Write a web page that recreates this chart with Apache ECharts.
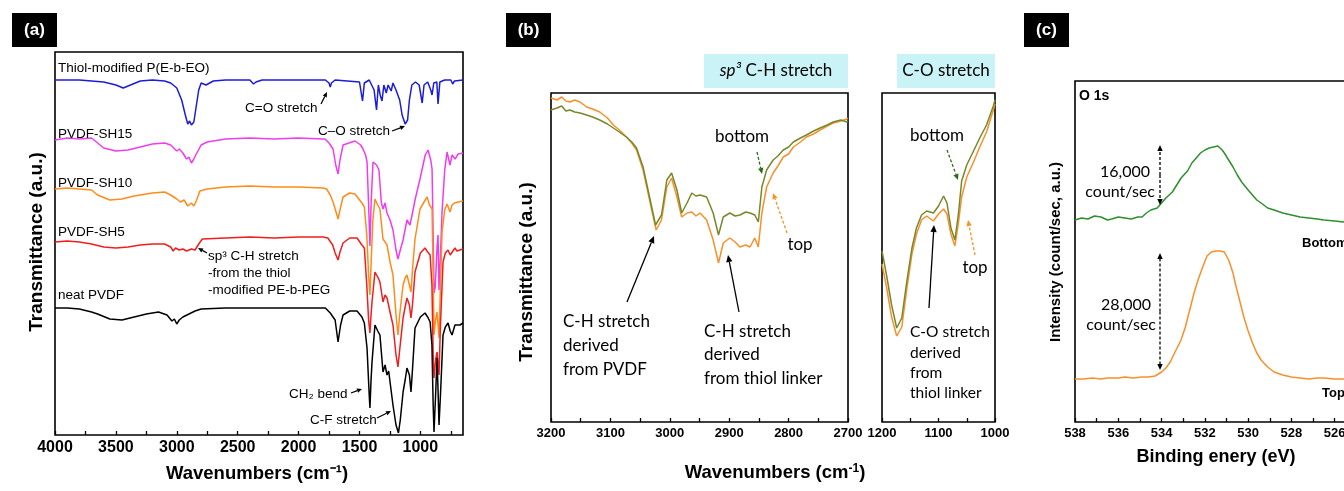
<!DOCTYPE html>
<html>
<head>
<meta charset="utf-8">
<script src="https://cdn.jsdelivr.net/npm/echarts@6/dist/echarts.min.js"></script>
<style>
  html, body { margin: 0; padding: 0; background: #fff; }
  #chart { width: 1344px; height: 491px; }
</style>
</head>
<body>
<div id="chart"></div>
<script>
// ---------- (a) FTIR spectra, [wavenumber, transmittance a.u. (offset)] ----------
const thiolPEG = [[4000,355],[3800,355],[3600,353],[3500,350],[3440,347],[3380,350],[3300,354],[3200,355],[3100,354],[3050,352],[3000,347],[2960,335],[2930,320],[2910,311],[2895,314],[2880,310],[2860,313],[2845,325],[2820,345],[2800,352],[2760,350],[2700,354],[2600,355],[2400,355],[2370,351],[2350,353],[2300,355],[2000,355],[1780,355],[1750,352],[1740,348],[1730,352],[1700,355],[1600,354],[1500,353],[1475,334],[1460,352],[1420,355],[1380,345],[1360,325],[1345,350],[1330,340],[1315,334],[1300,350],[1280,342],[1265,350],[1240,344],[1225,352],[1200,345],[1170,335],[1150,320],[1125,311],[1105,315],[1090,335],[1070,350],[1040,353],[1010,350],[985,332],[970,350],[940,353],[915,345],[904,340],[890,352],[865,353],[855,331],[840,353],[800,355],[750,355],[735,351],[720,354],[650,355]];
const pvdfSH15 = [[4000,295],[3900,297],[3800,296],[3700,297],[3650,292],[3600,287],[3500,284],[3400,285],[3300,288],[3200,291],[3100,292],[3050,290],[3000,284],[2980,286],[2950,282],[2920,276],[2900,278],[2880,272],[2860,276],[2840,281],[2800,290],[2750,293],[2600,296],[2400,297],[2200,296],[2000,297],[1800,296],[1783,296],[1750,292],[1717,286],[1695,270],[1676,261],[1660,275],[1635,290],[1619,291],[1537,294],[1490,290],[1471,286],[1450,280],[1438,273],[1425,230],[1414,189],[1405,230],[1389,273],[1360,270],[1340,265],[1320,232],[1307,226],[1290,232],[1274,222],[1249,215],[1225,205],[1200,185],[1184,176],[1165,185],[1142,195],[1110,215],[1085,210],[1060,225],[1044,235],[1003,256],[960,280],[937,285],[915,275],[904,266],[895,200],[888,142],[878,148],[870,150],[862,190],[855,200],[847,145],[835,180],[822,223],[800,265],[781,283],[757,270],[740,280],[715,276],[690,281],[650,282]];
const pvdfSH10 = [[4000,246],[3900,247],[3800,246],[3700,245],[3650,240],[3550,235],[3450,236],[3350,239],[3200,242],[3100,243],[3050,240],[3000,236],[2970,233],[2940,235],[2910,229],[2880,232],[2860,229],[2840,234],[2810,244],[2750,246],[2600,248],[2400,249],[2200,248],[2000,248],[1800,247],[1770,246],[1740,240],[1717,233],[1690,222],[1676,216],[1660,225],[1635,238],[1580,242],[1537,241],[1480,232],[1460,228],[1440,200],[1425,160],[1414,140],[1405,170],[1390,215],[1373,236],[1350,230],[1332,226],[1307,196],[1290,193],[1274,190],[1249,173],[1225,160],[1200,120],[1184,100],[1170,120],[1142,150],[1125,157],[1110,160],[1090,150],[1077,143],[1065,165],[1044,196],[1003,226],[960,235],[945,238],[925,230],[904,226],[895,160],[888,100],[875,115],[863,123],[855,110],[847,97],[835,150],[822,203],[800,225],[781,231],[757,223],[740,230],[720,232],[690,233],[650,234]];
const pvdfSH5 = [[4000,193],[3900,194],[3800,193],[3700,191],[3600,188],[3500,187],[3400,188],[3300,190],[3200,191],[3100,191],[3050,188],[3030,184],[3010,187],[2980,185],[2950,186],[2920,184],[2880,186],[2850,185],[2820,191],[2790,196],[2600,197],[2400,198],[2200,197],[2000,198],[1800,198],[1760,197],[1720,190],[1700,182],[1676,175],[1660,183],[1635,192],[1580,197],[1520,197],[1480,190],[1460,187],[1440,150],[1425,115],[1414,102],[1405,120],[1397,133],[1373,163],[1350,158],[1332,153],[1307,133],[1290,140],[1274,137],[1249,123],[1225,110],[1200,80],[1184,68],[1170,85],[1142,117],[1125,128],[1110,137],[1090,130],[1077,117],[1065,130],[1044,163],[1000,182],[962,187],[940,183],[920,180],[905,150],[895,80],[888,57],[875,75],[863,83],[855,72],[847,60],[835,110],[814,173],[795,182],[773,185],[755,180],[740,180],[716,187],[700,184],[675,185],[650,186]];
const neatPVDF = [[4000,127],[3900,127],[3800,126],[3700,123],[3650,121],[3550,116],[3450,115],[3350,118],[3250,121],[3150,123],[3080,120],[3040,114],[3020,116],[3000,111],[2980,115],[2950,118],[2900,121],[2850,124],[2800,126],[2600,127],[2400,127],[2200,127],[2000,127],[1800,127],[1780,127],[1740,122],[1700,115],[1676,93],[1655,110],[1635,120],[1580,124],[1520,124],[1480,118],[1460,112],[1438,87],[1420,40],[1414,27],[1405,55],[1397,73],[1373,110],[1350,104],[1332,100],[1307,63],[1290,70],[1274,60],[1260,64],[1249,53],[1225,30],[1200,10],[1180,2],[1165,15],[1142,43],[1125,55],[1110,67],[1090,60],[1077,43],[1065,65],[1044,107],[1000,118],[962,122],[940,118],[920,113],[905,90],[895,30],[888,3],[875,40],[863,77],[855,45],[847,10],[835,40],[814,100],[795,108],[773,112],[755,104],[740,100],[716,110],[700,108],[675,110],[650,112]];

// ---------- (b) zoomed FTIR, top vs bottom surface ----------
const chTop = [[3200,324],[3190,322],[3182,325],[3175,321],[3168,320],[3160,322],[3151,320],[3140,315],[3130,313],[3118,310],[3105,304],[3095,297],[3085,292],[3073,285],[3064,279],[3056,272],[3045,252],[3033,219],[3023,192],[3014,202],[3005,235],[2997,244],[2988,225],[2980,205],[2971,209],[2963,210],[2956,206],[2949,209],[2938,202],[2927,182],[2918,159],[2910,179],[2899,184],[2890,180],[2882,175],[2872,177],[2865,175],[2857,184],[2851,175],[2845,209],[2837,235],[2826,249],[2818,256],[2809,265],[2800,268],[2792,275],[2780,280],[2770,285],[2758,288],[2747,292],[2735,296],[2725,299],[2712,301],[2702,303],[2700,304]];
const chBottom = [[3200,312],[3190,314],[3182,316],[3175,311],[3168,312],[3160,310],[3151,309],[3140,307],[3130,305],[3118,302],[3105,298],[3095,294],[3085,290],[3073,285],[3064,280],[3056,274],[3045,255],[3033,222],[3024,197],[3014,207],[3005,242],[2997,249],[2988,232],[2980,209],[2971,219],[2963,229],[2956,226],[2949,227],[2938,225],[2927,209],[2918,187],[2910,205],[2899,209],[2890,206],[2882,207],[2872,210],[2865,209],[2857,207],[2851,200],[2845,235],[2837,252],[2826,262],[2818,266],[2809,272],[2800,275],[2792,280],[2780,284],[2770,287],[2758,291],[2747,294],[2735,297],[2725,300],[2712,302],[2702,300],[2700,301]];
const coTop = [[1200,158],[1192,135],[1183,105],[1174,86],[1165,95],[1156,133],[1147,168],[1139,188],[1130,202],[1121,206],[1109,201],[1100,208],[1091,213],[1085,208],[1078,188],[1071,176],[1065,198],[1059,225],[1050,245],[1038,260],[1027,275],[1015,290],[1003,312],[1000,318]];
const coBottom = [[1200,171],[1192,147],[1183,117],[1174,94],[1165,104],[1156,141],[1147,174],[1139,194],[1130,207],[1121,211],[1109,209],[1100,216],[1091,226],[1085,219],[1078,194],[1071,182],[1065,207],[1059,241],[1050,257],[1038,271],[1027,284],[1015,297],[1003,316],[1000,322]];

// ---------- (c) XPS O 1s, [binding energy eV, intensity a.u.] ----------
const o1sBottom = [[538,202],[537.7,204],[537.4,203],[537.1,206],[536.8,205],[536.5,202],[536.3,203],[536.0,205],[535.7,204],[535.4,203],[535.1,205],[534.9,205],[534.7,209],[534.5,212],[534.2,214],[534.0,219],[533.8,224],[533.5,230],[533.3,237],[533.1,244],[532.8,251],[532.6,259],[532.4,264],[532.2,269],[532.0,272],[531.8,274],[531.6,275],[531.4,276],[531.2,272],[531.1,269],[530.9,262],[530.7,255],[530.5,247],[530.3,240],[530.0,232],[529.8,227],[529.6,222],[529.4,219],[529.1,214],[528.8,212],[528.4,209],[528.0,207],[527.6,205],[527.2,204],[526.8,203],[526.5,202],[526.0,201],[525.6,200],[525.0,201],[524.0,200]];
const o1sTop = [[538,43],[537.6,43],[537.2,44],[536.8,43],[536.5,44],[536.0,44],[535.7,45],[535.3,44],[534.9,45],[534.6,45],[534.3,46],[534.0,50],[533.8,54],[533.6,60],[533.4,69],[533.1,82],[532.9,95],[532.7,112],[532.5,129],[532.3,143],[532.1,155],[531.9,166],[531.7,170],[531.5,171],[531.3,171],[531.1,170],[530.9,162],[530.7,149],[530.6,139],[530.4,122],[530.2,105],[530.0,91],[529.8,79],[529.6,69],[529.4,62],[529.1,55],[528.8,50],[528.4,47],[528.0,45],[527.6,44],[527.2,43],[526.8,44],[526.5,44],[526.0,43],[525.6,43],[524.0,43]];

// tick positions
const ticksA = [750,1000,1250,1500,1750,2000,2250,2500,2750,3000,3250,3500,3750,4000];
const labelsA = [1000,1500,2000,2500,3000,3500,4000];
const ticksB1 = [2700,2750,2800,2850,2900,2950,3000,3050,3100,3150,3200];
const labelsB1 = [2700,2800,2900,3000,3100,3200];
const ticksB2 = [1000,1050,1100,1150,1200];
const labelsB2 = [1000,1100,1200];
const ticksC = [524,525,526,527,528,529,530,531,532,533,534,535,536,537,538];
const labelsC = [524,526,528,530,532,534,536,538];

const SANS = '"Liberation Sans", Arial, sans-serif';
const CAL = 'Lato, "Open Sans", sans-serif';

var chart = echarts.init(document.getElementById("chart"));

function xAx(grid, min, max, ticks, labels, fontSize, margin) {
  return {
    gridIndex: grid, type: "value", min: min, max: max, inverse: true,
    axisLine: { show: false },
    splitLine: { show: false },
    axisTick: { show: true, inside: true, length: 4, customValues: ticks, lineStyle: { color: "#000", width: 1.3 } },
    axisLabel: { customValues: labels, color: "#000", fontWeight: "bold", fontFamily: SANS, fontSize: fontSize, margin: margin,
      formatter: function (v) { return String(v); } }
  };
}
function yAx(grid, max) {
  return { gridIndex: grid, type: "value", min: 0, max: max, show: false };
}
function line(name, data, color, xi, width) {
  return { name: name, type: "line", data: data, xAxisIndex: xi, yAxisIndex: xi, showSymbol: false, symbol: "none",
    lineStyle: { color: color, width: width || 1.5 }, itemStyle: { color: color }, silent: true, z: 3 };
}
function txt(x, y, text, size, o) {
  o = o || {};
  return { type: "text", x: x, y: y, rotation: o.rot || 0, z: 20,
    style: { text: text, fontSize: size, fontFamily: o.family || SANS, fontWeight: o.bold ? "bold" : "normal",
      fill: o.color || "#000", align: o.align || "left", verticalAlign: "middle", rich: o.rich } };
}
function arrow(x1, y1, x2, y2, color, dashed, head) {
  var a = Math.atan2(y2 - y1, x2 - x1), h = head || 6, w = h * 0.45;
  var bx = x2 - h * Math.cos(a), by = y2 - h * Math.sin(a);
  var px = -Math.sin(a) * w, py = Math.cos(a) * w;
  return [
    { type: "line", z: 20, shape: { x1: x1, y1: y1, x2: bx, y2: by }, style: { stroke: color, lineWidth: 1.3, lineDash: dashed ? [3, 2] : null } },
    { type: "polygon", z: 20, shape: { points: [[x2, y2], [bx + px, by + py], [bx - px, by - py]] }, style: { fill: color } }
  ];
}
function dblArrow(x, y1, y2) {
  return arrow(x, (y1 + y2) / 2, x, y1, "#000", true, 6).concat(arrow(x, (y1 + y2) / 2, x, y2, "#000", true, 6));
}
function tag(x, label) {
  return [
    { type: "rect", z: 20, shape: { x: x, y: 13, width: 45, height: 34 }, style: { fill: "#000" } },
    txt(x + 22.5, 30, label, 17, { bold: true, color: "#fff", align: "center" })
  ];
}

var graphics = [].concat(
  tag(12, "(a)"), tag(506, "(b)"), tag(1024, "(c)"),
  // (a) labels
  [txt(58, 68, "Thiol-modified P(E-b-EO)", 13.5),
   txt(58, 134, "PVDF-SH15", 13.5),
   txt(58, 183, "PVDF-SH10", 13.5),
   txt(58, 232, "PVDF-SH5", 13.5),
   txt(58, 295, "neat PVDF", 13.5),
   txt(245, 108, "C=O stretch", 13.5),
   txt(318, 131, "C\u2013O stretch", 13.5),
   txt(208, 256, "sp\u00b3 C-H stretch", 13.5),
   txt(208, 273, "-from the thiol", 13.5),
   txt(208, 290, "-modified PE-b-PEG", 13.5),
   txt(289, 394, "CH\u2082 bend", 13.5),
   txt(310, 420, "C-F stretch", 13.5),
   txt(37, 242, "Transmittance (a.u.)", 19, { bold: true, rot: Math.PI / 2, align: "center" }),
   txt(257, 474, "Wavenumbers (cm\u207b\u00b9)", 18.5, { bold: true, align: "center" })],
  arrow(321, 104, 327, 92, "#000", false, 5),
  arrow(392, 131, 405, 126, "#000", false, 5),
  arrow(207, 253, 198, 248, "#000", false, 5),
  arrow(351, 393, 362, 389, "#000", false, 5),
  arrow(377, 418, 391, 411, "#000", false, 5),
  // (b) labels
  [{ type: "rect", z: 1, shape: { x: 704, y: 54, width: 144, height: 34 }, style: { fill: "#c9f3f6" } },
   { type: "rect", z: 1, shape: { x: 897, y: 54, width: 98, height: 34 }, style: { fill: "#c9f3f6" } },
   txt(776, 71, "{i|sp\u00b3} C-H stretch", 17, { family: CAL, align: "center", rich: { i: { fontStyle: "italic", fontSize: 17, fontFamily: CAL } } }),
   txt(946, 71, "C-O stretch", 17, { family: CAL, align: "center" }),
   txt(742, 137, "bottom", 17, { family: CAL, align: "center" }),
   txt(800, 245, "top", 17, { family: CAL, align: "center" }),
   txt(937, 136, "bottom", 17, { family: CAL, align: "center" }),
   txt(975, 268, "top", 17, { family: CAL, align: "center" }),
   txt(563, 322, "C-H stretch", 17, { family: CAL }),
   txt(563, 346, "derived", 17, { family: CAL }),
   txt(563, 370, "from PVDF", 17, { family: CAL }),
   txt(704, 332, "C-H stretch", 17, { family: CAL }),
   txt(704, 355, "derived", 17, { family: CAL }),
   txt(704, 379, "from thiol linker", 17, { family: CAL }),
   txt(910, 332, "C-O stretch", 15.5, { family: CAL }),
   txt(910, 353, "derived", 15.5, { family: CAL }),
   txt(910, 373, "from", 15.5, { family: CAL }),
   txt(910, 393, "thiol linker", 15.5, { family: CAL }),
   txt(527, 272, "Transmittance (a.u.)", 19, { bold: true, rot: Math.PI / 2, align: "center" }),
   txt(775, 473, "Wavenumbers (cm{s|-1})", 18.5, { bold: true, align: "center", rich: { s: { fontSize: 12, fontWeight: "bold", fontFamily: SANS, verticalAlign: "top", padding: [0, 0, 8, 0] } } })],
  arrow(757, 152, 762, 174, "#2a6e1a", true, 6),
  arrow(787, 233, 773, 193, "#f7941d", true, 6),
  arrow(627, 302, 654, 236, "#000", false, 7),
  arrow(739, 312, 728, 255, "#000", false, 7),
  arrow(947, 150, 958, 180, "#2a6e1a", true, 6),
  arrow(975, 255, 968, 220, "#f7941d", true, 6),
  arrow(929, 308, 934, 225, "#000", false, 7),
  // (c) labels
  [txt(1079, 96, "O 1s", 14, { bold: true }),
   txt(1150, 172, "16,000", 16, { family: CAL, align: "right" }),
   txt(1155, 192, "count/sec", 16, { family: CAL, align: "right" }),
   txt(1151, 305, "28,000", 16, { family: CAL, align: "right" }),
   txt(1156, 325, "count/sec", 16, { family: CAL, align: "right" }),
   txt(1302, 243, "Bottom", 13, { bold: true }),
   txt(1322, 393, "Top", 13, { bold: true }),
   txt(1056, 252, "Intensity (count/sec, a.u.)", 15, { bold: true, rot: Math.PI / 2, align: "center" }),
   txt(1216, 457, "Binding enery (eV)", 18, { bold: true, align: "center" })],
  dblArrow(1160, 145, 205),
  dblArrow(1160, 253, 370)
);

var gridBase = { show: true, borderColor: "#000", borderWidth: 1.6, backgroundColor: "transparent", containLabel: false, outerBoundsMode: "none" };

let option = {
  animation: false,
  backgroundColor: "#fff",
  grid: [
    Object.assign({ left: 55, top: 52, width: 408, height: 383 }, gridBase),
    Object.assign({ left: 551, top: 93, width: 297, height: 329 }, gridBase),
    Object.assign({ left: 882, top: 93, width: 113, height: 329 }, gridBase),
    Object.assign({ left: 1075, top: 81, width: 303, height: 341 }, gridBase)
  ],
  xAxis: [
    xAx(0, 650, 4000, ticksA, labelsA, 16, 5),
    xAx(1, 2700, 3200, ticksB1, labelsB1, 13, 5),
    xAx(2, 1000, 1200, ticksB2, labelsB2, 13, 5),
    xAx(3, 524, 538, ticksC, labelsC, 13, 5)
  ],
  yAxis: [yAx(0, 383), yAx(1, 329), yAx(2, 329), yAx(3, 341)],
  series: [
    line("Thiol-modified P(E-b-EO)", thiolPEG, "#1c1cd8", 0),
    line("PVDF-SH15", pvdfSH15, "#f03cf0", 0),
    line("PVDF-SH10", pvdfSH10, "#ff8c1a", 0),
    line("PVDF-SH5", pvdfSH5, "#f01e1e", 0),
    line("neat PVDF", neatPVDF, "#000000", 0),
    line("top", chTop, "#f7902a", 1),
    line("bottom", chBottom, "#76892a", 1),
    line("top", coTop, "#f7902a", 2),
    line("bottom", coBottom, "#76892a", 2),
    line("Bottom", o1sBottom, "#2e8f2e", 3),
    line("Top", o1sTop, "#f7902a", 3)
  ],
  graphic: graphics
};
chart.setOption(option);
</script>
</body>
</html>
